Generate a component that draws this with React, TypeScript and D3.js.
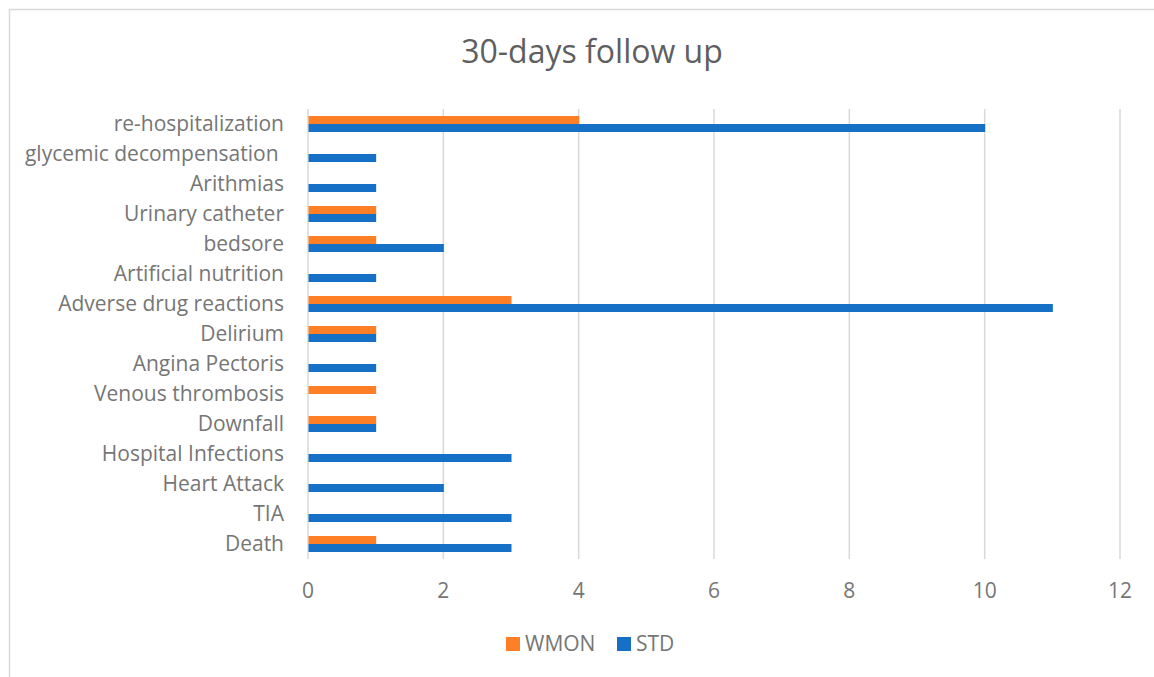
import React from "react";
import * as d3 from "d3";

const categories = [
  "re-hospitalization",
  "glycemic decompensation ",
  "Arithmias",
  "Urinary catheter",
  "bedsore",
  "Artificial nutrition",
  "Adverse drug reactions",
  "Delirium",
  "Angina Pectoris",
  "Venous thrombosis",
  "Downfall",
  "Hospital Infections",
  "Heart Attack",
  "TIA",
  "Death",
];
const wmon = [4, 0, 0, 1, 1, 0, 3, 1, 0, 1, 1, 0, 0, 0, 1];
const std = [10, 1, 1, 1, 2, 1, 11, 1, 1, 0, 1, 3, 2, 3, 3];
const seriesNames = ["WMON", "STD"];
const seriesColors = ["#FF7F27", "#1570C6"];
const xTicks = [0, 2, 4, 6, 8, 10, 12];
const title = "30-days follow up";

const W = 1154;
const H = 677;
const FONT = "'Open Sans', 'Liberation Sans', sans-serif";
const TXT = "#767676";

export default function App() {
  const x = d3.scaleLinear().domain([0, 12]).range([308, 1120]);
  const y = d3.scaleBand<string>().domain(categories).range([109, 559]).padding(0);
  const inner = d3.scaleBand<string>().domain(seriesNames).range([-8, 8]).padding(0);
  const values = [wmon, std];

  return (
    <svg
      width={W}
      height={H}
      style={{ position: "absolute", left: 0, top: 0, background: "#fff" }}
    >
      <rect x={9.5} y={9.5} width={1200} height={700} fill="#fff" stroke="#D9D9D9" strokeWidth={1.5} />
      <text x={592} y={63} textAnchor="middle" fontFamily={FONT} fontSize={32} fill="#5F5F5F">
        {title}
      </text>
      {xTicks.map((t) => (
        <line key={t} x1={x(t)} x2={x(t)} y1={109} y2={559} stroke="#D9D9D9" strokeWidth={1.5} />
      ))}
      {xTicks.map((t) => (
        <text
          key={"l" + t}
          x={x(t)}
          y={598}
          textAnchor="middle"
          fontFamily={FONT}
          fontSize={21}
          fill={TXT}
        >
          {t}
        </text>
      ))}
      {categories.map((c, i) => {
        const cy = (y(c) as number) + y.bandwidth() / 2;
        return (
          <g key={c}>
            <text
              x={284}
              y={cy + 7}
              textAnchor="end"
              fontFamily={FONT}
              fontSize={21}
              fill={TXT}
              style={{ whiteSpace: "pre" }}
            >
              {c}
            </text>
            {seriesNames.map((s, si) => {
              const v = values[si][i];
              if (v <= 0) return null;
              return (
                <rect
                  key={s}
                  x={x(0) + 0.5}
                  y={cy + (inner(s) as number)}
                  width={x(v) - x(0)}
                  height={inner.bandwidth()}
                  fill={seriesColors[si]}
                />
              );
            })}
          </g>
        );
      })}
      {seriesNames.map((s, si) => {
        const lx = [506, 617][si];
        return (
          <g key={"lg" + s}>
            <rect x={lx} y={637} width={14} height={14} fill={seriesColors[si]} />
            <text x={lx + 19} y={651} fontFamily={FONT} fontSize={21} fill={TXT}>
              {s}
            </text>
          </g>
        );
      })}
    </svg>
  );
}
